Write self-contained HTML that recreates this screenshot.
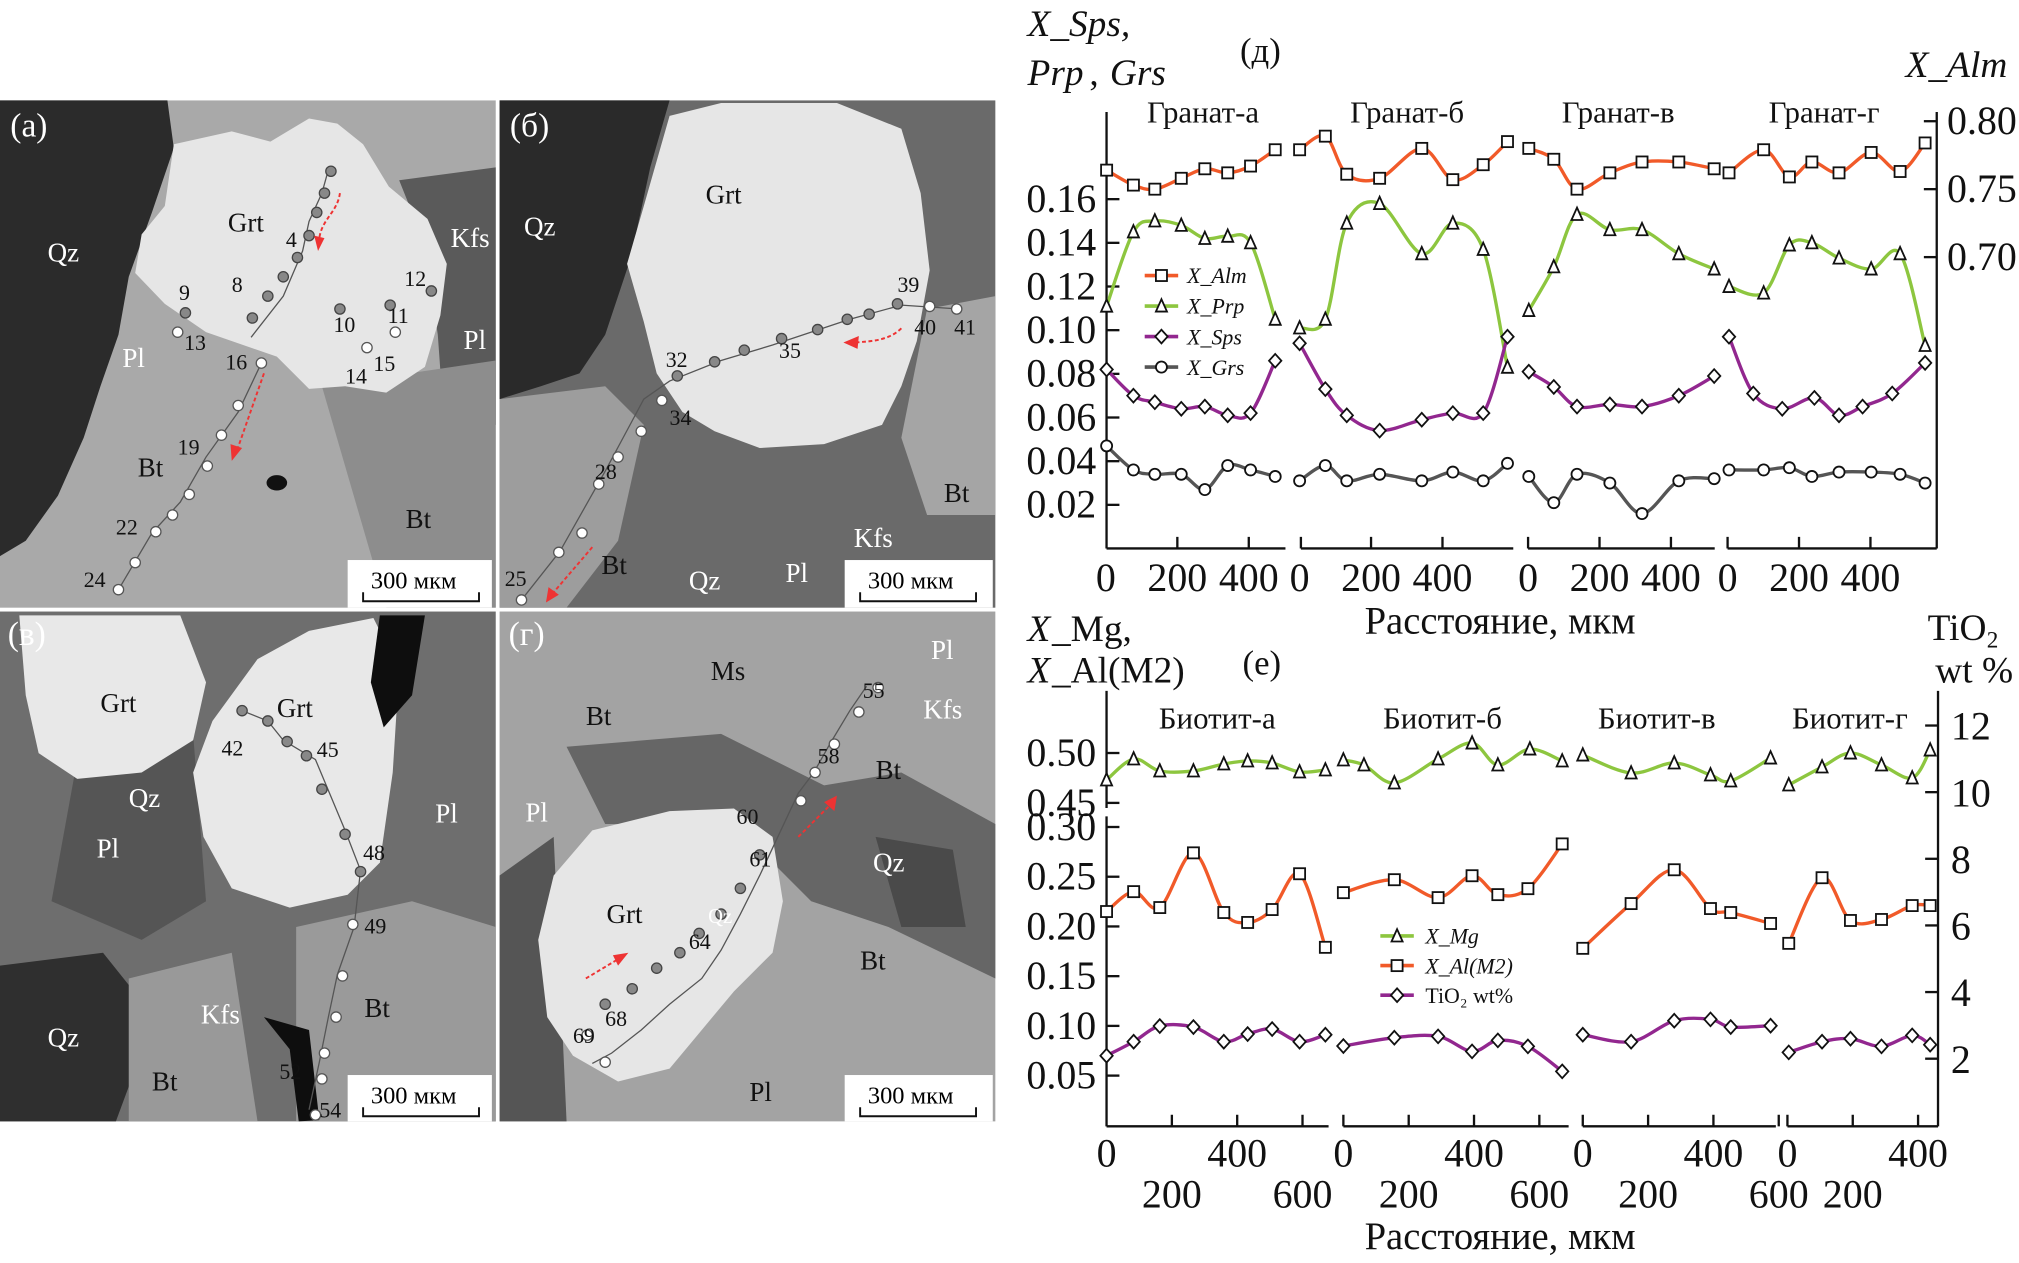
<!DOCTYPE html>
<html><head><meta charset="utf-8"><style>
html,body{margin:0;padding:0;background:#fff}
svg{display:block}
text{font-family:"Liberation Serif","DejaVu Serif",serif}
</style></head><body>
<svg id="root" width="2019" height="1263" viewBox="0 0 1568 981" preserveAspectRatio="none" xmlns="http://www.w3.org/2000/svg">
<rect width="1568" height="981" fill="#fff"/>
<!-- Panel a -->
<g>
<rect x="0" y="78" width="385" height="394" fill="#a9a9a9"/>
<polygon fill="#2b2b2b" points="0,78 130,78 135,115 118,165 100,215 92,260 78,300 65,340 45,385 20,420 0,432"/>
<polygon fill="#5a5a5a" points="310,140 385,130 385,330 345,330 340,260 330,190"/>
<polygon fill="#8d8d8d" points="250,300 385,280 385,472 300,472"/>
<polygon fill="#e6e6e6" points="135,112 180,102 210,110 240,92 262,96 282,112 302,145 332,170 347,205 342,245 330,285 300,305 268,300 240,302 215,277 160,258 128,236 105,212 110,182 128,160"/>
<ellipse cx="215" cy="375" rx="8" ry="6" fill="#111"/>
<polyline points="255,132 250,150 240,172 235,195 220,230 195,262" fill="none" stroke="#555" stroke-width="1"/>
<polyline points="203,282 185,320 160,355 140,390 118,414 92,458" fill="none" stroke="#555" stroke-width="1"/>
<g fill="#888" stroke="#444"><circle cx="257" cy="133" r="4"/><circle cx="252" cy="150" r="4"/><circle cx="246" cy="165" r="4"/><circle cx="240" cy="183" r="4"/><circle cx="231" cy="200" r="4"/><circle cx="220" cy="215" r="4"/><circle cx="208" cy="230" r="4"/><circle cx="196" cy="247" r="4"/><circle cx="144" cy="243" r="4"/><circle cx="264" cy="240" r="4"/><circle cx="303" cy="237" r="4"/><circle cx="335" cy="226" r="4"/></g>
<g fill="#fff" stroke="#555"><circle cx="203" cy="282" r="4"/><circle cx="185" cy="315" r="4"/><circle cx="172" cy="338" r="4"/><circle cx="161" cy="362" r="4"/><circle cx="147" cy="384" r="4"/><circle cx="134" cy="400" r="4"/><circle cx="121" cy="413" r="4"/><circle cx="105" cy="437" r="4"/><circle cx="92" cy="458" r="4"/><circle cx="138" cy="258" r="4"/><circle cx="285" cy="270" r="4"/><circle cx="307" cy="258" r="4"/></g>
<path d="M264,150 C262,165 250,170 248,185" fill="none" stroke="#e33" stroke-width="1.5" stroke-dasharray="3,2"/><polygon points="244,183 252,185 247,195" fill="#e33"/>
<path d="M205,290 L184,350" fill="none" stroke="#e33" stroke-width="1.5" stroke-dasharray="3,2"/><polygon points="179,345 188,348 180,358" fill="#e33"/>
<g font-size="21"><text x="8" y="106" fill="#fff" font-size="26">(a)</text><text x="37" y="203" fill="#fff">Qz</text><text x="177" y="180" fill="#111">Grt</text><text x="350" y="192" fill="#fff">Kfs</text><text x="95" y="285" fill="#fff">Pl</text><text x="360" y="271" fill="#fff">Pl</text><text x="107" y="370" fill="#111">Bt</text><text x="315" y="410" fill="#111">Bt</text></g>
<g font-size="17" fill="#111"><text x="222" y="192">4</text><text x="180" y="227">8</text><text x="139" y="233">9</text><text x="259" y="258">10</text><text x="301" y="251">11</text><text x="314" y="222">12</text><text x="143" y="272">13</text><text x="268" y="298">14</text><text x="290" y="288">15</text><text x="175" y="287">16</text><text x="138" y="353">19</text><text x="90" y="415">22</text><text x="65" y="456">24</text></g>
<rect x="270" y="435" width="112" height="37" fill="#fff"/><text x="288" y="457" font-size="19">300 мкм</text><path d="M282,460 v7 h90 v-7" fill="none" stroke="#111" stroke-width="1.5"/>
</g>
<!-- Panel b -->
<g>
<rect x="388" y="78" width="385" height="394" fill="#6a6a6a"/>
<polygon fill="#2a2a2a" points="388,78 520,78 505,130 490,200 470,260 450,290 420,300 388,310"/>
<polygon fill="#9d9d9d" points="388,310 470,300 500,330 480,420 440,472 388,472"/>
<polygon fill="#a5a5a5" points="720,240 773,230 773,400 720,400 700,340"/>
<polygon fill="#e6e6e6" points="520,90 560,80 650,80 700,100 715,150 722,210 712,265 700,300 685,330 640,345 590,348 555,335 530,320 510,290 500,250 487,205 500,160"/>
<polyline points="405,466 435,428 470,366 500,310 520,296 560,280 600,268 660,248 700,237 745,240" fill="none" stroke="#555" stroke-width="1"/>
<g fill="#888" stroke="#444"><circle cx="526" cy="292" r="4"/><circle cx="555" cy="281" r="4"/><circle cx="578" cy="272" r="4"/><circle cx="607" cy="263" r="4"/><circle cx="635" cy="256" r="4"/><circle cx="658" cy="248" r="4"/><circle cx="675" cy="244" r="4"/><circle cx="697" cy="236" r="4"/></g>
<g fill="#fff" stroke="#555"><circle cx="514" cy="311" r="4"/><circle cx="498" cy="335" r="4"/><circle cx="480" cy="355" r="4"/><circle cx="465" cy="376" r="4"/><circle cx="452" cy="414" r="4"/><circle cx="434" cy="429" r="4"/><circle cx="405" cy="466" r="4"/><circle cx="722" cy="238" r="4"/><circle cx="743" cy="240" r="4"/></g>
<path d="M700,255 C690,265 675,265 665,266" fill="none" stroke="#e33" stroke-width="1.5" stroke-dasharray="3,2"/><polygon points="655,266 667,261 666,271" fill="#e33"/>
<path d="M460,425 L430,460" fill="none" stroke="#e33" stroke-width="1.5" stroke-dasharray="3,2"/><polygon points="424,468 426,456 434,462" fill="#e33"/>
<g font-size="21"><text x="396" y="106" fill="#fff" font-size="26">(б)</text><text x="407" y="183" fill="#fff">Qz</text><text x="548" y="158" fill="#111">Grt</text><text x="733" y="390" fill="#111">Bt</text><text x="663" y="425" fill="#fff">Kfs</text><text x="535" y="458" fill="#fff">Qz</text><text x="610" y="452" fill="#fff">Pl</text><text x="467" y="446" fill="#111">Bt</text></g>
<g font-size="17" fill="#111"><text x="517" y="285">32</text><text x="520" y="330">34</text><text x="605" y="278">35</text><text x="462" y="372">28</text><text x="392" y="455">25</text><text x="697" y="227">39</text><text x="710" y="260">40</text><text x="741" y="260">41</text></g>
<rect x="656" y="435" width="115" height="37" fill="#fff"/><text x="674" y="457" font-size="19">300 мкм</text><path d="M668,460 v7 h90 v-7" fill="none" stroke="#111" stroke-width="1.5"/>
</g>
<!-- Panel v -->
<g>
<rect x="0" y="475" width="385" height="396" fill="#6e6e6e"/>
<polygon fill="#555" points="60,590 150,570 160,700 110,730 40,700"/>
<polygon fill="#2f2f2f" points="0,750 80,740 120,790 90,871 0,871"/>
<polygon fill="#9a9a9a" points="230,720 320,700 385,720 385,871 230,871"/>
<polygon fill="#999" points="100,760 180,740 200,871 100,871"/>
<polygon fill="#e8e8e8" points="15,478 140,478 160,530 150,575 110,600 60,605 30,585 20,540"/>
<polygon fill="#e8e8e8" points="165,560 200,512 240,490 290,480 310,520 305,600 295,670 270,695 225,705 180,690 158,650 150,600"/>
<polygon fill="#0e0e0e" points="295,478 330,478 320,540 298,565 288,530"/>
<polygon fill="#0e0e0e" points="205,790 240,800 248,870 232,871 225,815"/>
<polyline points="188,552 208,560 220,575 245,590 268,645 280,676 275,720 262,757 255,790 248,825 240,862" fill="none" stroke="#555" stroke-width="1"/>
<g fill="#888" stroke="#444"><circle cx="188" cy="552" r="4"/><circle cx="208" cy="560" r="4"/><circle cx="223" cy="576" r="4"/><circle cx="238" cy="587" r="4"/><circle cx="250" cy="613" r="4"/><circle cx="268" cy="648" r="4"/><circle cx="280" cy="677" r="4"/></g>
<g fill="#fff" stroke="#555"><circle cx="274" cy="718" r="4"/><circle cx="266" cy="758" r="4"/><circle cx="261" cy="790" r="4"/><circle cx="252" cy="818" r="4"/><circle cx="250" cy="838" r="4"/><circle cx="245" cy="866" r="4"/></g>
<g font-size="21"><text x="6" y="501" fill="#fff" font-size="26">(в)</text><text x="78" y="553" fill="#111">Grt</text><text x="215" y="557" fill="#111">Grt</text><text x="100" y="627" fill="#fff">Qz</text><text x="75" y="666" fill="#fff">Pl</text><text x="338" y="639" fill="#fff">Pl</text><text x="156" y="795" fill="#fff">Kfs</text><text x="37" y="813" fill="#fff">Qz</text><text x="118" y="847" fill="#111">Bt</text><text x="283" y="790" fill="#111">Bt</text></g>
<g font-size="17" fill="#111"><text x="172" y="587">42</text><text x="246" y="588">45</text><text x="282" y="668">48</text><text x="283" y="725">49</text><text x="217" y="838">52</text><text x="248" y="868">54</text></g>
<rect x="270" y="835" width="112" height="36" fill="#fff"/><text x="288" y="857" font-size="19">300 мкм</text><path d="M282,860 v7 h90 v-7" fill="none" stroke="#111" stroke-width="1.5"/>
</g>
<!-- Panel g -->
<g>
<rect x="388" y="475" width="385" height="396" fill="#a3a3a3"/>
<polygon fill="#666" points="440,580 560,570 640,610 700,600 773,640 773,760 690,720 630,700 570,640 470,640"/>
<polygon fill="#4a4a4a" points="680,650 740,660 750,720 700,720"/>
<polygon fill="#555" points="388,680 430,650 440,871 388,871"/>
<polygon fill="#e6e6e6" points="430,680 460,645 520,630 570,628 600,650 608,700 600,740 570,770 545,800 520,830 480,840 445,820 425,790 418,730"/>
<polyline points="673,533 660,552 645,577 632,600 620,616 590,680 575,710 560,738 545,760 520,780 498,800 475,818 460,826" fill="none" stroke="#555" stroke-width="1"/>
<g fill="#888" stroke="#444"><circle cx="590" cy="664" r="4"/><circle cx="575" cy="690" r="4"/><circle cx="560" cy="710" r="4"/><circle cx="543" cy="725" r="4"/><circle cx="528" cy="740" r="4"/><circle cx="510" cy="752" r="4"/><circle cx="491" cy="768" r="4"/><circle cx="470" cy="780" r="4"/></g>
<g fill="#fff" stroke="#555"><circle cx="682" cy="534" r="4"/><circle cx="667" cy="553" r="4"/><circle cx="648" cy="578" r="4"/><circle cx="633" cy="600" r="4"/><circle cx="622" cy="622" r="4"/><circle cx="456" cy="804" r="4"/><circle cx="470" cy="825" r="4"/></g>
<path d="M620,650 L645,625" fill="none" stroke="#e33" stroke-width="1.5" stroke-dasharray="3,2"/><polygon points="650,618 648,630 640,623" fill="#e33"/>
<path d="M455,760 L480,745" fill="none" stroke="#e33" stroke-width="1.5" stroke-dasharray="3,2"/><polygon points="488,740 480,750 476,742" fill="#e33"/>
<g font-size="21"><text x="395" y="501" fill="#fff" font-size="26">(г)</text><text x="552" y="528" fill="#111">Ms</text><text x="723" y="512" fill="#fff">Pl</text><text x="717" y="558" fill="#fff">Kfs</text><text x="455" y="563" fill="#111">Bt</text><text x="408" y="638" fill="#fff">Pl</text><text x="680" y="605" fill="#111">Bt</text><text x="678" y="677" fill="#fff">Qz</text><text x="668" y="753" fill="#111">Bt</text><text x="471" y="717" fill="#111">Grt</text><text x="550" y="717" fill="#fff" font-size="16">Qz</text><text x="582" y="855" fill="#111">Pl</text></g>
<g font-size="17" fill="#111"><text x="670" y="542">55</text><text x="635" y="593">58</text><text x="572" y="640">60</text><text x="582" y="673">61</text><text x="535" y="737">64</text><text x="470" y="797">68</text><text x="445" y="810">69</text></g>
<rect x="656" y="835" width="115" height="36" fill="#fff"/><text x="674" y="857" font-size="19">300 мкм</text><path d="M668,860 v7 h90 v-7" fill="none" stroke="#111" stroke-width="1.5"/>
</g>
<g id="charts"></g>
</svg>
<script>
// ===== Garnet chart (д) data =====
const garnetSegments = ["Гранат-а","Гранат-б","Гранат-в","Гранат-г"];
const gDistA = [2,77,137,211,277,341,405,474];
const gDistB = [0,72,132,224,342,429,514,582];
const gDistC = [2,72,137,229,319,422,521];
const gDistD = [4,101,173,236,312,402,483,553];
const gDistDSps = [4,72,153,243,312,378,461,553];
const almA = [0.764,0.753,0.750,0.758,0.765,0.762,0.767,0.779];
const almB = [0.779,0.789,0.761,0.758,0.780,0.757,0.768,0.785];
const almC = [0.780,0.772,0.750,0.762,0.770,0.770,0.765];
const almD = [0.762,0.779,0.759,0.770,0.762,0.777,0.763,0.784];
const prpA = [0.111,0.145,0.150,0.148,0.142,0.143,0.140,0.105];
const prpB = [0.101,0.105,0.149,0.158,0.135,0.149,0.137,0.083];
const prpC = [0.109,0.129,0.153,0.146,0.146,0.135,0.128];
const prpD = [0.120,0.117,0.139,0.140,0.133,0.128,0.135,0.093];
const spsA = [0.082,0.070,0.067,0.064,0.065,0.061,0.062,0.086];
const spsB = [0.094,0.073,0.061,0.054,0.059,0.062,0.062,0.097];
const spsC = [0.081,0.074,0.065,0.066,0.065,0.070,0.079];
const spsD = [0.097,0.071,0.064,0.069,0.061,0.065,0.071,0.085];
const grsA = [0.047,0.036,0.034,0.034,0.027,0.038,0.036,0.033];
const grsB = [0.031,0.038,0.031,0.034,0.031,0.035,0.031,0.039];
const grsC = [0.033,0.021,0.034,0.030,0.016,0.031,0.032];
const grsD = [0.036,0.036,0.037,0.033,0.035,0.035,0.034,0.030];
const gLeftTicks = [0.16,0.14,0.12,0.10,0.08,0.06,0.04,0.02];
const gRightTicks = [0.80,0.75,0.70];
const gXTicks = [0,200,400];
// ===== Biotite chart (е) data =====
const biotiteSegments = ["Биотит-а","Биотит-б","Биотит-в","Биотит-г"];
const mgDistA = [0,83,163,266,359,432,507,591,670];
const mgDistB = [0,63,156,290,394,473,571,670];
const bDistC = [0,148,280,391,453,575];
const bDistD = [4,106,193,288,382,437];
const alDistB = [0,156,290,394,473,565,670];
const mgA = [0.473,0.494,0.482,0.482,0.489,0.492,0.490,0.481,0.483];
const mgB = [0.493,0.488,0.470,0.494,0.510,0.488,0.504,0.492];
const mgC = [0.498,0.480,0.490,0.478,0.472,0.495];
const mgD = [0.468,0.486,0.500,0.488,0.475,0.503];
const alA = [0.215,0.235,0.219,0.274,0.214,0.204,0.217,0.253,0.179];
const alB = [0.234,0.247,0.229,0.251,0.232,0.238,0.283];
const alC = [0.178,0.223,0.257,0.218,0.214,0.203];
const alD = [0.183,0.249,0.206,0.207,0.221,0.221];
const tiA = [2.09,2.51,2.98,2.95,2.51,2.74,2.89,2.51,2.72];
const tiB = [2.38,2.63,2.67,2.22,2.55,2.37,1.62];
const tiC = [2.72,2.51,3.14,3.18,2.95,2.99];
const tiD = [2.19,2.51,2.60,2.37,2.70,2.42];
const bLeftTicksUpper = [0.50,0.45];
const bLeftTicksLower = [0.30,0.25,0.20,0.15,0.10,0.05];
const bRightTicks = [12,10,8,6,4,2];
const bXTicks = [0,200,400,600];

const NS = "http://www.w3.org/2000/svg";
const root = document.getElementById('charts');
function el(tag, attrs, parent, txt){
  const e = document.createElementNS(NS, tag);
  for (const k in attrs) e.setAttribute(k, attrs[k]);
  if (txt !== undefined) e.textContent = txt;
  (parent||root).appendChild(e);
  return e;
}
function smoothPath(pts){
  if (pts.length < 2) return "";
  let d = "M" + pts[0][0] + "," + pts[0][1];
  for (let i = 0; i < pts.length - 1; i++){
    const p0 = pts[i-1]||pts[i], p1 = pts[i], p2 = pts[i+1], p3 = pts[i+2]||p2;
    const c1 = [p1[0]+(p2[0]-p0[0])/6, p1[1]+(p2[1]-p0[1])/6];
    const c2 = [p2[0]-(p3[0]-p1[0])/6, p2[1]-(p3[1]-p1[1])/6];
    d += " C"+c1[0]+","+c1[1]+" "+c2[0]+","+c2[1]+" "+p2[0]+","+p2[1];
  }
  return d;
}
function marker(g, type, x, y){
  const s = 4.3;
  const st = {fill:'#fff', stroke:'#111', 'stroke-width':1.4};
  let m;
  if (type==='square') m = el('rect', Object.assign({x:x-s,y:y-s,width:2*s,height:2*s}, st), g);
  else if (type==='triangle') m = el('polygon', Object.assign({points:`${x},${y-s-1} ${x-s},${y+s} ${x+s},${y+s}`}, st), g);
  else if (type==='diamond') m = el('polygon', Object.assign({points:`${x},${y-s-1} ${x+s+0.5},${y} ${x},${y+s+1} ${x-s-0.5},${y}`}, st), g);
  else m = el('circle', Object.assign({cx:x,cy:y,r:s}, st), g);
  return m;
}
function drawSeries(name, color, type, segs, X, Y){
  const g = el('g', {});
  
  
  segs.forEach(([seg, dists, vals], si) => {
    const pts = vals.map((v,i) => [X(seg, dists[i]), Y(v)]);
    const p = el('path', {d: smoothPath(pts), fill:'none', stroke:color, 'stroke-width':2.6}, g);
    
    
    pts.forEach((pt, i) => {
      const m = marker(g, type, pt[0], pt[1]);
      
      
    });
  });
}
function txt(x, y, s, size, attrs, name){
  const t = el('text', Object.assign({x:x, y:y, 'font-size':size, fill:'#111'}, attrs||{}), root, s);
  
  
  return t;
}

// ===== Garnet chart geometry =====
const zxToX = zx => 784.4 + 0.4998*zx;
const gSegX0 = [149, 450, 805, 1115];
const gX = (seg, d) => zxToX(gSegX0[seg] + d*0.555);
const gYL = v => 0.317*(488 + (0.16 - v)*5350);
const gYR = v => 0.317*(297 + (0.80 - v)*3330);
const gTop = 87, gBot = 426, axL = zxToX(150), axR = zxToX(1440);
const AX = {stroke:'#111','stroke-width':1.8, fill:'none'};
let a = el('line', Object.assign({x1:axL,y1:gTop,x2:axL,y2:gBot}, AX));
 
a = el('line', Object.assign({x1:axR,y1:gTop,x2:axR,y2:gBot}, AX));
 
const gSegEnds = [[150,428],[452,782],[805,1095],[1115,1440]];
gSegEnds.forEach((se, i) => {
  const l = el('line', Object.assign({x1:zxToX(se[0]),y1:gBot,x2:zxToX(se[1]),y2:gBot}, AX));
   
  if (i>0){ const e2 = el('line', Object.assign({x1:zxToX(se[0]),y1:gBot,x2:zxToX(se[0]),y2:gBot-9}, AX));
      }
  gXTicks.forEach(t => {
    const x = gX(i, t);
    if (t>0){ const tk = el('line', Object.assign({x1:x,y1:gBot,x2:x,y2:gBot-9}, AX));
        }
    txt(x, 459, String(t), 31, {'text-anchor':'middle'}, 'garnet-x-tick-label');
  });
});
gLeftTicks.forEach(v => {
  const y = gYL(v);
  const tk = el('line', Object.assign({x1:axL,y1:y,x2:axL+10,y2:y}, AX));
   
  txt(axL-8, y+10, v.toFixed(2), 31, {'text-anchor':'end'}, 'garnet-left-tick-label');
});
gRightTicks.forEach(v => {
  const y = gYR(v);
  const tk = el('line', Object.assign({x1:axR,y1:y,x2:axR-10,y2:y}, AX));
   
  txt(axR+8, y+10, v.toFixed(2), 31, {}, 'garnet-right-tick-label');
});
const gLabX = [300, 617, 945, 1265];
garnetSegments.forEach((s,i) => txt(zxToX(gLabX[i]), 95, s, 24, {'text-anchor':'middle'}, 'garnet-segment-label'));
drawSeries('series-x-alm', '#f15a29', 'square', [[0,gDistA,almA],[1,gDistB,almB],[2,gDistC,almC],[3,gDistD,almD]], gX, gYR);
drawSeries('series-x-prp', '#8dc63f', 'triangle', [[0,gDistA,prpA],[1,gDistB,prpB],[2,gDistC,prpC],[3,gDistD,prpD]], gX, gYL);
drawSeries('series-x-sps', '#92278f', 'diamond', [[0,gDistA,spsA],[1,gDistB,spsB],[2,gDistC,spsC],[3,gDistDSps,spsD]], gX, gYL);
drawSeries('series-x-grs', '#555555', 'circle', [[0,gDistA,grsA],[1,gDistB,grsB],[2,gDistC,grsC],[3,gDistD,grsD]], gX, gYL);
// titles
txt(798, 28, 'X_Sps,', 29, {'font-style':'italic'}, 'garnet-left-axis-title');
txt(798, 66, 'Prp', 29, {'font-style':'italic'}, 'garnet-left-axis-title-2');
txt(846, 66, ', ', 29, {}, 'garnet-left-axis-title-comma');
txt(862, 66, 'Grs', 29, {'font-style':'italic'}, 'garnet-left-axis-title-3');
txt(963, 48, '(д)', 27, {}, 'panel-d-label');
txt(1480, 60, 'X_Alm', 29, {'font-style':'italic'}, 'garnet-right-axis-title');
txt(1165, 492, 'Расстояние, мкм', 30, {'text-anchor':'middle'}, 'garnet-x-axis-title');
// legend
const gLeg = [['X_Alm','#f15a29','square'],['X_Prp','#8dc63f','triangle'],['X_Sps','#92278f','diamond'],['X_Grs','#555555','circle']];
gLeg.forEach((e,i) => {
  const y = 214 + i*23.7;
  const g = el('g', {});
  
  
  el('line', {x1:889,y1:y,x2:915,y2:y,stroke:e[1],'stroke-width':2.8}, g);
  marker(g, e[2], 902, y);
  const t = el('text', {x:922,y:y+6,'font-size':17,'font-style':'italic',fill:'#111'}, g, e[0]);
});

// ===== Biotite chart geometry =====
const bY0 = 466, bK = 0.3284;
const zyB = zy => bY0 + zy*bK;
const bSegX0 = [150, 518, 890, 1208];
const bX = (seg, d) => zxToX(bSegX0[seg] + d*0.5075);
const bYMg = v => zyB(362 + (0.50 - v)*2360);
const bYAl = v => zyB(537 + (0.30 - v)*2352);
const bYTi = v => zyB(297 + (12 - v)*78.8);
const bTop = zyB(215), bBot = zyB(1245), bAxR = zxToX(1442);
a = el('line', Object.assign({x1:axL,y1:bTop,x2:axL,y2:zyB(492)}, AX));
 
a = el('line', Object.assign({x1:axL,y1:zyB(512),x2:axL,y2:bBot}, AX));
 
a = el('line', Object.assign({x1:bAxR,y1:bTop,x2:bAxR,y2:bBot}, AX));
 
const bSegEnds = [[150,495],[518,868],[890,1190],[1208,1442]];
const bRow = [896, 928];
bSegEnds.forEach((se, i) => {
  const l = el('line', Object.assign({x1:zxToX(se[0]),y1:bBot,x2:zxToX(se[1]),y2:bBot}, AX));
   
  if (i>0){ const e2 = el('line', Object.assign({x1:zxToX(se[0]),y1:bBot,x2:zxToX(se[0]),y2:bBot-9}, AX));
      }
  bXTicks.forEach((t, ti) => {
    const x = bX(i, t);
    if (zxToX(se[1]) + 12 < x) return;
    if (t>0){ const tk = el('line', Object.assign({x1:x,y1:bBot,x2:x,y2:bBot-9}, AX));
        }
    txt(x, bRow[ti % 2] + 10, String(t), 31, {'text-anchor':'middle'}, 'biotite-x-tick-label');
  });
});
bLeftTicksUpper.forEach(v => {
  const y = bYMg(v);
  const tk = el('line', Object.assign({x1:axL,y1:y,x2:axL+10,y2:y}, AX));
   
  txt(axL-8, y+10, v.toFixed(2), 31, {'text-anchor':'end'}, 'biotite-left-tick-label');
});
bLeftTicksLower.forEach(v => {
  const y = bYAl(v);
  const tk = el('line', Object.assign({x1:axL,y1:y,x2:axL+10,y2:y}, AX));
   
  txt(axL-8, y+10, v.toFixed(2), 31, {'text-anchor':'end'}, 'biotite-left-tick-label');
});
bRightTicks.forEach(v => {
  const y = bYTi(v);
  const tk = el('line', Object.assign({x1:bAxR,y1:y,x2:bAxR-10,y2:y}, AX));
   
  txt(bAxR+10, y+11, String(v), 31, {}, 'biotite-right-tick-label');
});
const bLabX = [322, 672, 1005, 1305];
biotiteSegments.forEach((s,i) => txt(zxToX(bLabX[i]), 566, s, 24, {'text-anchor':'middle'}, 'biotite-segment-label'));
drawSeries('series-x-mg', '#8dc63f', 'triangle', [[0,mgDistA,mgA],[1,mgDistB,mgB],[2,bDistC,mgC],[3,bDistD,mgD]], bX, bYMg);
drawSeries('series-x-al-m2', '#f15a29', 'square', [[0,mgDistA,alA],[1,alDistB,alB],[2,bDistC,alC],[3,bDistD,alD]], bX, bYAl);
drawSeries('series-tio2', '#92278f', 'diamond', [[0,mgDistA,tiA],[1,alDistB,tiB],[2,bDistC,tiC],[3,bDistD,tiD]], bX, bYTi);
txt(798, 498, 'X', 29, {'font-style':'italic'}, 'biotite-left-axis-title-x');
txt(817, 498, '_Mg,', 29, {}, 'biotite-left-axis-title-mg');
txt(798, 530, 'X', 29, {'font-style':'italic'}, 'biotite-left-axis-title-x2');
txt(817, 530, '_Al(M2)', 29, {}, 'biotite-left-axis-title-al');
txt(965, 524, '(е)', 27, {}, 'panel-e-label');
txt(1497, 497, 'TiO', 29, {}, 'biotite-right-axis-title');
txt(1543, 503, '2', 18, {}, 'biotite-right-axis-title-sub');
txt(1503, 530, 'wt %', 29, {}, 'biotite-right-axis-title-2');
txt(1165, 970, 'Расстояние, мкм', 30, {'text-anchor':'middle'}, 'biotite-x-axis-title');
const bLeg = [['X_Mg','#8dc63f','triangle',true],['X_Al(M2)','#f15a29','square',true],['TiO₂ wt%','#92278f','diamond',false]];
bLeg.forEach((e,i) => {
  const y = 727 + i*23;
  const g = el('g', {});
  
  
  el('line', {x1:1072,y1:y,x2:1098,y2:y,stroke:e[1],'stroke-width':2.8}, g);
  marker(g, e[2], 1085, y);
  const at = {x:1107,y:y+6,'font-size':17,fill:'#111'};
  if (e[3]) at['font-style'] = 'italic';
  el('text', at, g, e[0]);
});
</script>
</body></html>
